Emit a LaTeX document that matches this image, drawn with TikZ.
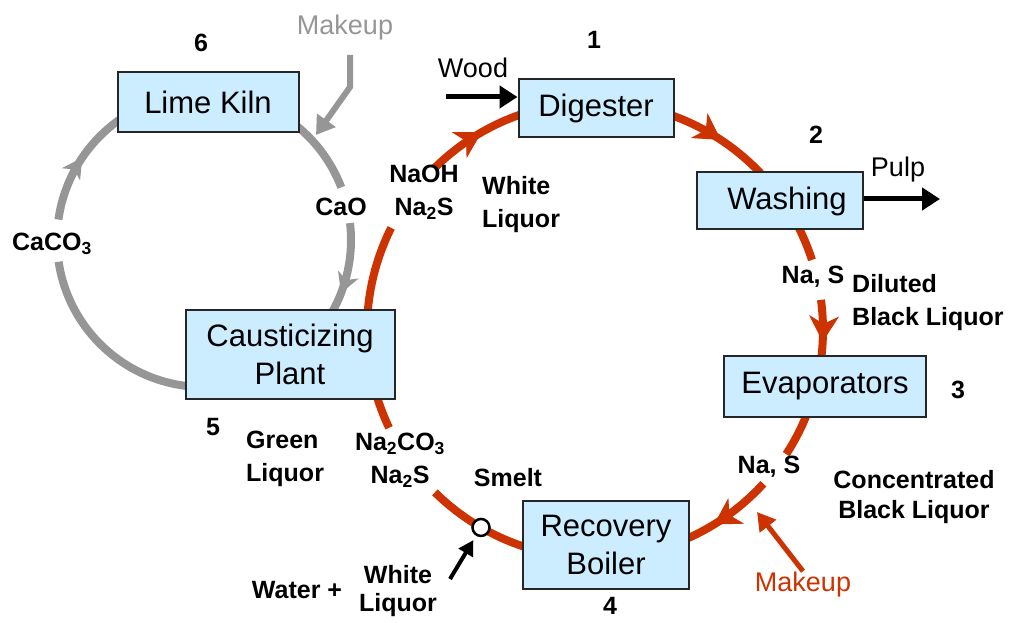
\documentclass[tikz,border=0pt]{standalone}
\usepackage{fontspec}
\setmainfont{Liberation Sans}
\usepackage{xcolor}
\usetikzlibrary{arrows.meta,decorations.markings}
\definecolor{boxblue}{RGB}{204,236,255}
\definecolor{kraftred}{RGB}{204,51,0}
\definecolor{limegray}{RGB}{150,150,150}

\begin{document}
\begin{tikzpicture}[x=1pt,y=1pt,
	box/.style={draw=black!85,line width=2pt,fill=boxblue,font=\fontsize{31}{38}\selectfont,align=center,inner sep=0pt},
	lbl/.style={font=\fontsize{25}{33}\selectfont\bfseries,align=center,inner sep=1pt},
	note/.style={font=\fontsize{27}{30}\selectfont,inner sep=1pt},
	redline/.style={line width=8pt,kraftred},
	grayline/.style={line width=8pt,limegray},
	redflow/.style={redline,postaction={decorate},decoration={markings,mark=at position #1 with {\arrow{Stealth[length=26pt,width=30pt,inset=8pt,line width=1pt]}}}},
	grayflow/.style={grayline,postaction={decorate},decoration={markings,mark=at position #1 with {\arrow{Stealth[length=20pt,width=22pt,inset=6pt,line width=1pt]}}}},
	feed/.style={line width=5pt,-{Triangle[length=18pt,width=22pt]}}]
	\useasboundingbox (0,0) rectangle (1029,-623);
	\coordinate (rc) at (595,-330);
	\coordinate (gc) at (204,-240);
	\foreach \a/\b in {178/153.4,28/17.9,-20/-33,-106/-134.6,-154.6/-168}
		\draw[redline] ([shift={(\a:228)}]rc) arc[start angle=\a,end angle=\b,radius=228];
	\draw[redflow=0.5] ([shift={(134.6:228)}]rc) arc[start angle=134.6,end angle=105,radius=228];
	\draw[redflow=0.5] ([shift={(75:228)}]rc) arc[start angle=75,end angle=38,radius=228];
	\draw[redflow=0.6] ([shift={(7.6:228)}]rc) arc[start angle=7.6,end angle=-10,radius=228];
	\draw[redflow=0.63] ([shift={(-42.4:228)}]rc) arc[start angle=-42.4,end angle=-68,radius=228];
	\foreach \a/\b in {-88/-171.5,60/21}
		\draw[grayline] ([shift={(\a:147)}]gc) arc[start angle=\a,end angle=\b,radius=147];
	\draw[grayflow=0.5] ([shift={(172:147)}]gc) arc[start angle=172,end angle=120,radius=147];
	\draw[grayflow=0.72] ([shift={(6.6:147)}]gc) arc[start angle=6.6,end angle=-32,radius=147];

	\node[box,minimum width=181pt,minimum height=60pt] (kiln) at (208,-102) {Lime Kiln};
	\node[box,minimum width=155pt,minimum height=58pt] (dig) at (596,-108) {Digester};
	\node[box,minimum width=166pt,minimum height=57pt] (wash) at (780,-201) {\hspace{14pt}Washing};
	\node[box,minimum width=202pt,minimum height=61pt] (evap) at (825,-386) {Evaporators};
	\node[box,minimum width=166pt,minimum height=88pt] (boil) at (606,-545) {Recovery\\Boiler};
	\node[box,minimum width=209pt,minimum height=89pt] (caus) at (290,-354) {Causticizing\\Plant};
	\node[circle,draw,line width=2.5pt,fill=white,minimum size=17pt,inner sep=0pt] (smeltpt) at ([shift={(-120:228)}]rc) {};

	\node[lbl] (n6) at (201,-43) {6};
	\node[lbl] (n1) at (594,-40) {1};
	\node[lbl] (n2) at (816,-135) {2};
	\node[lbl] (n3) at (958,-390) {3};
	\node[lbl] (n4) at (610,-606) {4};
	\node[lbl] (n5) at (213,-427) {5};

	\node[note,limegray] (graymake) at (345,-28) {Makeup};
	\coordinate (gm1) at (350,-55);
	\coordinate (gm2) at (350,-87);
	\coordinate (gm3) at (316,-135);
	\draw[limegray,line width=6pt,-{Triangle[length=18pt,width=22pt]}] (gm1) -- (gm2) -- (gm3);

	\node[note] (wood) at (473,-68) {Wood};
	\coordinate (woodin) at (446,-97);
	\draw[feed] (woodin) -- (woodin -| dig.west);
	\node[note] (pulp) at (898,-170) {Pulp};
	\coordinate (pulpout) at (940,-199);
	\draw[feed] (wash.east |- pulpout) -- (pulpout);

	\node[lbl] (naoh) at (424,-192) {NaOH\\Na\textsubscript{2}S};
	\node[lbl,align=left,anchor=west] (wl) at (481,-205) {White\\Liquor};
	\node[lbl] (cao) at (341,-207) {CaO};
	\node[lbl] (caco) at (52,-244) {CaCO\textsubscript{3}};
	\node[lbl] (nas1) at (813,-277) {Na, S};
	\node[lbl,align=left,anchor=west] (dbl) at (851,-303) {Diluted\\Black Liquor};
	\node[lbl] (nas2) at (769,-467) {Na, S};
	\node[lbl,font=\fontsize{25}{30}\selectfont\bfseries] (cbl) at (914,-497) {Concentrated\\Black Liquor};
	\node[lbl] (smelt) at (508,-478) {Smelt};
	\node[lbl,align=left,anchor=west] (gl) at (245,-459) {Green\\Liquor};
	\node[lbl] (naco) at (400,-460) {Na\textsubscript{2}CO\textsubscript{3}\\Na\textsubscript{2}S};
	\node[lbl] (water) at (297,-590) {Water +};
	\node[lbl,font=\fontsize{25}{28}\selectfont\bfseries] (wl2) at (398,-591) {White\\Liquor};

	\node[note,kraftred] (redmake) at (803,-585) {Makeup};
	\coordinate (rmtip) at (757,-512);
	\draw[kraftred,line width=5pt,-{Triangle[length=18pt,width=20pt]}] (redmake.north) -- (rmtip);
	\coordinate (watertail) at (450,-579);
	\draw[line width=4pt,-{Triangle[length=15pt,width=16pt]},shorten >=5pt] (watertail) -- (smeltpt);
\end{tikzpicture}
\end{document}
